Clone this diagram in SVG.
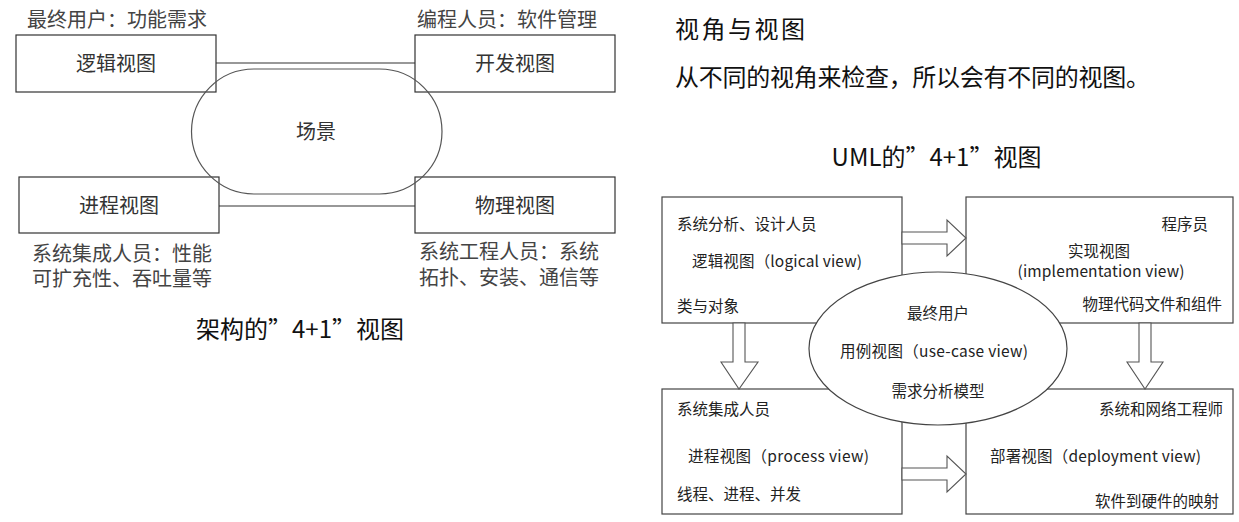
<svg xmlns="http://www.w3.org/2000/svg" width="1239" height="522" viewBox="0 0 1239 522">
<style>
text{font-family:'Noto Sans CJK SC','Noto Sans',sans-serif;dominant-baseline:central;fill:#222}
.lbl{font-size:20px;fill:#333}
.note{font-size:20px;fill:#444}
.title{font-size:24px;fill:#111}
.s{font-size:15.5px;fill:#222}
.box{fill:none;stroke:#333;stroke-width:1.2}
.bx{fill:#fff;stroke:#444;stroke-width:1.2}
.ln{fill:none;stroke:#333;stroke-width:1.2}
.arr{fill:#fff;stroke:#555;stroke-width:1.1}
.mid{text-anchor:middle}
.end{text-anchor:end}
</style>

<!-- Left: 4+1 architecture -->
<g id="connectors-left">
<line class="ln" x1="216" y1="63" x2="415" y2="63"/>
<line class="ln" x1="219" y1="206" x2="415" y2="206"/>
</g>
<g id="logical-left"><rect class="box" x="16" y="35" width="200" height="57"/><text class="lbl mid" x="116" y="62">逻辑视图</text></g>
<g id="dev-left"><rect class="box" x="415" y="35" width="200" height="57"/><text class="lbl mid" x="515" y="62">开发视图</text></g>
<g id="process-left"><rect class="box" x="19" y="177" width="200" height="56"/><text class="lbl mid" x="119" y="204">进程视图</text></g>
<g id="physical-left"><rect class="box" x="415" y="177" width="200" height="56"/><text class="lbl mid" x="515" y="204">物理视图</text></g>
<g id="scene"><rect x="191.5" y="69" width="250.5" height="125" rx="62.5" ry="62.5" fill="none" stroke="#555" stroke-width="1.2"/><text class="lbl mid" x="316" y="130">场景</text></g>
<text class="note" x="27" y="18">最终用户：功能需求</text>
<text class="note" x="417" y="18">编程人员：软件管理</text>
<text class="note" x="32" y="252">系统集成人员：性能<tspan x="32" dy="25">可扩充性、吞吐量等</tspan></text>
<text class="note" x="419" y="250">系统工程人员：系统<tspan x="419" dy="26">拓扑、安装、通信等</tspan></text>
<text class="title mid" x="300" y="327">架构的”4+1”视图</text>

<!-- Right: UML 4+1 -->
<text class="title" x="675" y="27" textLength="130" lengthAdjust="spacing">视角与视图</text>
<text class="title" x="675" y="75" textLength="475" lengthAdjust="spacing">从不同的视角来检查，所以会有不同的视图。</text>
<text class="title mid" x="936.5" y="155">UML的”4+1”视图</text>

<g id="logical"><rect class="bx" x="662" y="197" width="240" height="126"/>
<text class="s" x="677" y="223">系统分析、设计人员</text>
<text class="s" x="692" y="260" textLength="170" lengthAdjust="spacing">逻辑视图（logical view)</text>
<text class="s" x="677" y="305">类与对象</text></g>
<g id="implementation"><rect class="bx" x="966" y="197" width="267" height="126"/>
<text class="s end" x="1208" y="223">程序员</text>
<text class="s mid" x="1099" y="250">实现视图</text>
<text class="s mid" x="1101" y="270" textLength="167" lengthAdjust="spacing">(implementation view)</text>
<text class="s end" x="1222" y="303">物理代码文件和组件</text></g>
<g id="process"><rect class="bx" x="662" y="389" width="240" height="125"/>
<text class="s" x="677" y="408">系统集成人员</text>
<text class="s" x="688" y="455" textLength="181" lengthAdjust="spacing">进程视图（process view)</text>
<text class="s" x="677" y="493">线程、进程、并发</text></g>
<g id="deployment"><rect class="bx" x="966" y="389" width="267" height="125"/>
<text class="s end" x="1223" y="408">系统和网络工程师</text>
<text class="s" x="990" y="455" textLength="211" lengthAdjust="spacing">部署视图（deployment view)</text>
<text class="s end" x="1219" y="500">软件到硬件的映射</text></g>

<g id="connectors">
<polygon class="arr" points="902,232 947,232 947,220 966,238 947,256 947,244 902,244"/>
<polygon class="arr" points="902,468 947,468 947,456 966,474 947,492 947,480 902,480"/>
<polygon class="arr" points="733,323 745,323 745,362 758,362 739,389 721,362 733,362"/>
<polygon class="arr" points="1139,323 1151,323 1151,362 1163,362 1145,389 1127,362 1139,362"/>
</g>

<g id="usecase"><ellipse cx="938" cy="348.5" rx="129" ry="76.5" fill="#fff" stroke="#444" stroke-width="1.2"/>
<text class="s mid" x="938" y="312">最终用户</text>
<text class="s mid" x="934" y="350" textLength="188" lengthAdjust="spacing">用例视图（use-case view)</text>
<text class="s mid" x="938" y="390">需求分析模型</text></g>
</svg>
